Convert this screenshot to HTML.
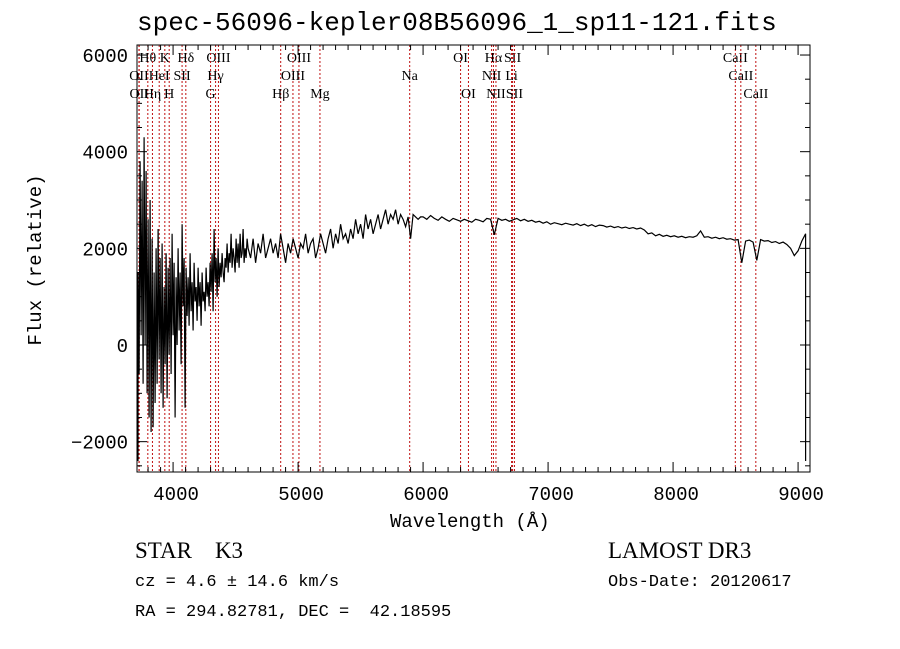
<!DOCTYPE html>
<html><head><meta charset="utf-8"><style>
body{margin:0;background:#fff;width:900px;height:649px;overflow:hidden}
svg{display:block}
.m{font-family:"Liberation Mono",monospace}
.s{font-family:"Liberation Serif",serif}
</style></head><body>
<svg id="c" width="900" height="649" xmlns="http://www.w3.org/2000/svg"></svg>
<script>
const segA = {start:3712, step:8, values:[-2400,1500,-600,3800,200,3400,-800,4300,0,3600,-1000,
2600,-1500,3000,-1800,2200,-1700,1500,-1200,2000,-800,
2400,-300,1800,-1000,2100,-1300,1200,-400,1900,-1100,
1600,-200,1800,-600,2300,200,1700,-1500,1400,0,
2000,300,1500,-400,2500,800,1800,-1300,1600,600,
1400,400,1900,700,1300,300,1700,900,1200,500,
1600,800,1300,400,1500,900,1100,700,1600,1000,
1300,800,1700,1100,1900,700,2400,1300,1800,1000,
2000,1200,1700,1400,1900,1500,1300,1800,1600,2100,
1500,1900,1700,2300,1600,2000,1800,1500,2200,1700,
2100,1600,2300,1800,1900,2400,1700,2000,1800,2200]};
const segB = {start:4600, step:20, values:[2000,1800,2200,1700,2100,1900,2300,1800,2000,2200,
1900,2100,1800,2300,2000,1700,2100,1900,2200,2000,
1800,2100,2000,2300,1900,2100,2200,1800,2000,2300,
2100,1900,2200,2400,2000,2300,2100,2500,2200,2300,
2100,2400,2200,2600,2300,2500,2200,2700,2400,2600,
2300,2500,2700,2400,2600,2800,2500,2700,2600,2800,
2500,2700,2600,2450,2650,2200,2700,2650,2600,2650]};
const segC = {start:6000, step:30, values:[2650,2600,2680,2620,2580,2650,2600,2560,2620,2590,
2560,2600,2570,2540,2600,2580,2550,2620,2600,2280,
2620,2580,2600,2560,2590,2620,2570,2600,2560,2580,
2540,2560,2520,2550,2500,2530,2510,2490,2520,2500,
2480,2510,2470,2500,2460,2490,2450,2480,2470,2440,
2460,2430,2450,2420,2440,2410,2430,2400,2420,2380,
2300,2320,2260,2290,2250,2270,2240,2260,2230,2250,
2220,2240,2230,2260,2360,2230,2240,2210,2230,2200,
2220,2190,2200,2170,2180,1700,2150,2170,2130,1750,
2180,2150,2160,2120,2140,2100,2130,2080,2000,1850,
1950,2150,2300]};
const segD = {start:9060, step:0, values:[-2400]};
const lineWaves = [3798,3934,4102,4363,5007,6300,6563,6716,8498, 3727,3889,4072,4340,4959,5893,6548,6708,8542, 3729,3835,3969,4300,4861,5175,6363,6583,6731,8662];
const lineLabels = ["Hθ","K","Hδ","OIII","OIII","OI","Hα","SII","CaII", "OII","HeI","SII","Hγ","OIII","Na","NII","Li","CaII", "OII","Hη","H","G","Hβ","Mg","OI","NII","SII","CaII"];
const lineRows = [0,0,0,0,0,0,0,0,0, 1,1,1,1,1,1,1,1,1, 2,2,2,2,2,2,2,2,2,2];
const xTicks = [4000,5000,6000,7000,8000,9000];
const yTicks = [-2000,0,2000,4000,6000];

const L=137,R=810,T=45,B=472;
const xs = w => 280.7 + (w-4861)*0.125;
const ys = f => 345 - f*0.04833;
const svg=document.getElementById('c');
const NS="http://www.w3.org/2000/svg";
function mk(tag,attrs,parent){const e=document.createElementNS(NS,tag);for(const k in attrs)e.setAttribute(k,attrs[k]);(parent||svg).appendChild(e);return e;}

const gl=mk('g',{});


lineWaves.forEach((w,i)=>{
  const x=xs(w);
  const ln=mk('line',{x1:x,x2:x,y1:T,y2:B,stroke:'#c01010','stroke-width':1,'stroke-dasharray':'2,2'},gl);
  
  
  const t=mk('text',{x:x,y:62+lineRows[i]*18,'text-anchor':'middle','font-size':14,class:'s',fill:'#000'},gl);
  
  
  t.textContent=lineLabels[i];
});

let pts=[];
[segA,segB,segC,segD].forEach(s=>s.values.forEach((v,i)=>{const w=s.start+i*s.step;const x=Math.max(L+1,Math.min(R,xs(w)));pts.push(x.toFixed(1)+','+ys(v).toFixed(1));}));
const clip=mk('clipPath',{id:'cp'});mk('rect',{x:L,y:T,width:R-L,height:B-T},clip);
const pl=mk('polyline',{points:pts.join(' '),fill:'none',stroke:'#000','stroke-width':1.2,'clip-path':'url(#cp)'});



const fr=mk('rect',{x:L,y:T,width:R-L,height:B-T,fill:'none',stroke:'#000','stroke-width':1});



for(let w=3800;w<=9000;w+=100){const x=xs(w);const big=w%1000===0;const h=big?10:5;
 mk('line',{x1:x,x2:x,y1:B,y2:B-h,stroke:'#000'});mk('line',{x1:x,x2:x,y1:T,y2:T+h,stroke:'#000'});}
xTicks.forEach(w=>{const t=mk('text',{x:xs(w)+3,y:500,'text-anchor':'middle','font-size':19,class:'m'});
 t.textContent=w;});
for(let f=-2500;f<=6000;f+=500){const y=ys(f);const big=f%2000===0;const h=big?10:5;
 mk('line',{x1:L,x2:L+h,y1:y,y2:y,stroke:'#000'});mk('line',{x1:R,x2:R-h,y1:y,y2:y,stroke:'#000'});}
yTicks.forEach(f=>{const t=mk('text',{x:128,y:ys(f)+7,'text-anchor':'end','font-size':19,class:'m'});
 t.textContent=(f<0?'−':'')+Math.abs(f);});
</script>
<div style="position:absolute;left:0;top:0;width:900px;height:649px;pointer-events:none">
<div class="m" style="position:absolute;left:137px;top:8px;font-size:26px;line-height:30px;white-space:pre">spec-56096-kepler08B56096_1_sp11-121.fits</div>
<div class="m" style="position:absolute;left:390px;top:510px;font-size:19px;line-height:24px;white-space:pre">Wavelength (Å)</div>
<div class="m" style="position:absolute;left:36px;top:260px;font-size:19px;line-height:24px;white-space:pre;transform:translate(-50%,-50%) rotate(-90deg)">Flux (relative)</div>
<div class="s" style="position:absolute;left:135px;top:538px;font-size:23px;white-space:pre">STAR    K3</div>
<div class="s" style="position:absolute;left:608px;top:538px;font-size:23px;white-space:pre">LAMOST DR3</div>
<div class="m" style="position:absolute;left:135px;top:573px;font-size:17px;white-space:pre">cz = 4.6 ± 14.6 km/s</div>
<div class="m" style="position:absolute;left:608px;top:573px;font-size:17px;white-space:pre">Obs-Date: 20120617</div>
<div class="m" style="position:absolute;left:135px;top:603px;font-size:17px;white-space:pre">RA = 294.82781, DEC =  42.18595</div>
</div>
</body></html>
